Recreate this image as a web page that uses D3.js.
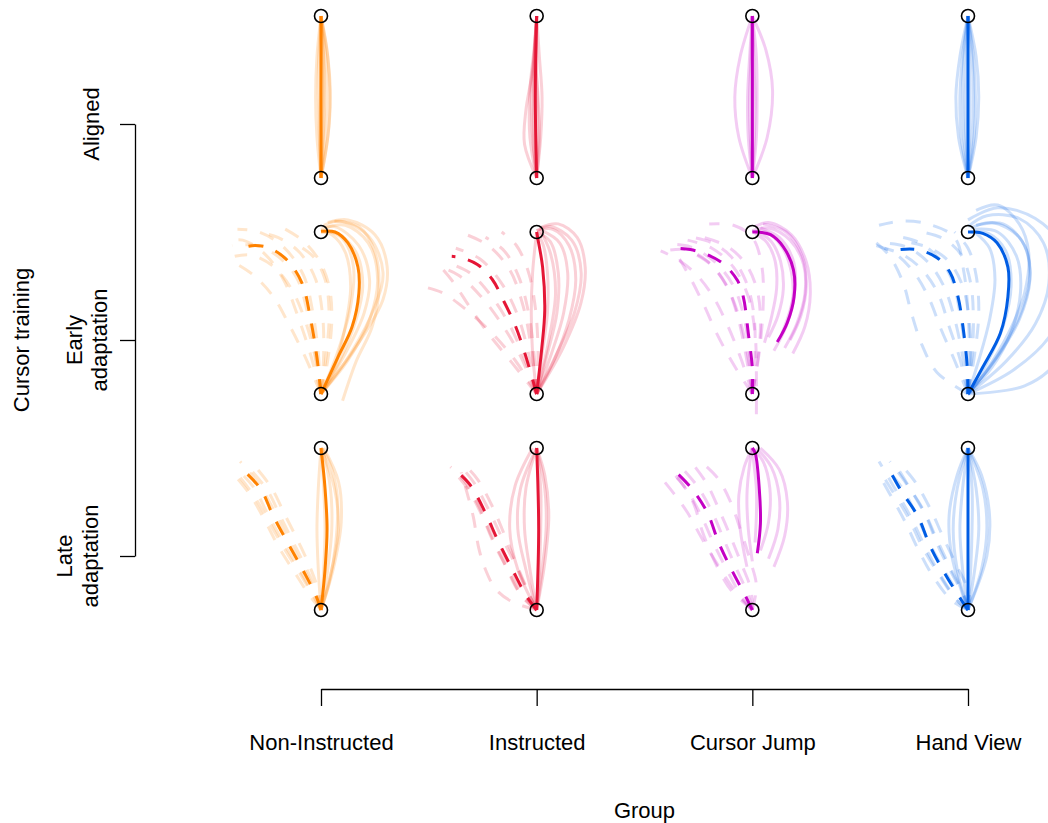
<!DOCTYPE html>
<html><head><meta charset="utf-8">
<script src="https://cdn.jsdelivr.net/npm/d3@7"></script>
<style>body{margin:0;background:#fff}svg{display:block}text{font-family:"Liberation Sans",Arial,Helvetica,sans-serif;}</style>
</head><body><svg id="c" width="1048" height="823"></svg>
<script>
// ---------- categories / labels ----------
const groups = ['Non-Instructed','Instructed','Cursor Jump','Hand View'];
const groupX = [0,16,32,48];                 // home x of each group (cm)
const phaseLabels = [['Aligned'],['Early','adaptation'],['Late','adaptation']];
const phaseY = [0,-16,-32];                  // home y of each phase (cm)
const phaseTicks = [4,-12,-28];
const targetDist = 12;
const colors = ['#ff8200','#e51636','#c400c4','#005de4'];

// ---------- Aligned (solid, hand = cursor) ----------
const NI_al_mean = [[0,0],[0,6],[0,12]];
const NI_al_ind = [
 [[0,0],[0.5,3],[0.7,6],[0.5,9],[0,12]],[[0,0],[0.3,3],[0.45,6],[0.35,9],[0,12]],
 [[0,0],[-0.3,3],[-0.4,6],[-0.3,9],[0,12]],[[0,0],[0.15,4],[0.2,8],[0,12]],
 [[0,0],[-0.15,4],[-0.2,8],[0,12]],[[0,0],[0.6,4],[0.5,9],[0,12]],
 [[0,0],[0.05,4],[0.1,8],[0,12]],[[0,0],[-0.1,4],[0,8],[0,12]],[[0,0],[0.25,5],[0.2,9],[0,12]]];
const IN_al_mean = [[0,0],[-0.1,6],[0,12]];
const IN_al_ind = [
 [[0,0],[-0.9,2.5],[-0.8,5],[-0.3,8],[0,12]],[[0,0],[0.3,3],[0.4,6],[0.2,9],[0,12]],
 [[0,0],[-0.3,3],[-0.4,6],[-0.2,9],[0,12]],[[0,0],[-0.5,3],[-0.5,6.5],[-0.2,9.5],[0,12]],
 [[0,0],[0.2,3],[0.1,6],[-0.1,9],[0,12]],[[0,0],[-0.1,4],[-0.2,8],[0,12]],
 [[0,0],[0.1,4],[0,8],[0,12]],[[0,0],[-0.25,3],[-0.2,7],[0,12]]];
const CJ_al_mean = [[0,0],[0,6],[0,12]];
const CJ_al_ind = [
 [[0,0],[-1.0,3],[-1.3,6],[-0.9,9],[0,12]],[[0,0],[1.1,3],[1.5,6.5],[1.0,9.5],[0,12]],
 [[0,0],[-0.3,3],[-0.35,6],[-0.2,9],[0,12]],[[0,0],[0.3,3],[0.35,6],[0.3,9],[0,12]],
 [[0,0],[-0.15,3],[-0.2,6],[-0.1,9],[0,12]],[[0,0],[0.15,3],[0.2,6],[0.1,9],[0,12]],
 [[0,0],[0,4],[0.05,8],[0,12]]];
const HV_al_mean = [[0,0],[0,6],[0,12]];
const HV_al_ind = [
 [[0,0],[-0.7,3],[-0.9,6],[-0.6,9],[0,12]],[[0,0],[0.6,3],[0.8,6],[0.6,9],[0,12]],
 [[0,0],[-0.3,3],[-0.4,6],[-0.3,9],[0,12]],[[0,0],[0.3,3],[0.4,6],[0.3,9],[0,12]],
 [[0,0],[-0.5,3],[-0.6,6],[-0.4,9],[0,12]],[[0,0],[0.1,3],[0.15,6],[0.1,9],[0,12]],
 [[0,0],[-0.15,3],[-0.2,6],[-0.1,9],[0,12]],[[0,0],[0.45,3],[0.55,6],[0.4,9],[0,12]]];

// ---------- Early adaptation ----------
const NI_ea_cur_mean = [[0,0],[1.26,2.74],[2.3,4.96],[2.81,7.48],[2.74,9.41],[2.0,11.19],[1.04,12.0],[0,12.05]];
const NI_ea_cur_ind = [
 [[0,0],[1.8,3],[3.2,6],[3.6,8.5],[2.8,11],[1,12.4],[0,12.2]],
 [[0,0],[2.2,3],[4,6.5],[4.6,9],[3.6,11.6],[1.5,12.8],[0.2,12.5]],
 [[0,0],[1.4,2.5],[2.6,5.5],[3.1,8],[2.6,10.5],[1.2,11.9],[0,12]],
 [[0,0],[2.6,3.5],[4.6,7],[4.9,9.5],[4,11.8],[2,12.9],[0.5,12.7]],
 [[0,0],[1,2],[1.8,5],[2.2,8],[1.8,10.5],[0.8,11.8],[0,12]],
 [[0,0],[2,2.5],[3.6,5.5],[4.2,8.5],[3.5,11.2],[1.8,12.5],[0.3,12.3]],
 [[1.6,-0.5],[2.6,2.4],[3.8,5],[4.3,7.8],[4,10.5],[2.8,12.4],[1,12.8]],
 [[0,0],[1.2,3],[2.2,6.5],[2.4,9.5],[1.6,11.5],[0.4,12.1]]];
const NI_ea_hand_mean = [[0,0],[-0.3,2.7],[-0.8,5.7],[-1.4,8.2],[-2.5,9.9],[-3.8,10.8],[-4.9,11.0],[-6.0,10.8]];
const NI_ea_hand_ind = [
 [[0,0],[-0.8,3],[-1.8,6],[-2.8,8.5],[-4.2,10.4],[-5.8,11.4],[-7,11.3]],
 [[0,0],[0.2,3],[0.1,6],[-0.4,8.5],[-1.6,10.5],[-3.2,11.6],[-4.8,12.0]],
 [[0,0],[-0.5,3],[-1.2,5.5],[-2.2,7.8],[-3.6,9.5],[-5.2,10.3],[-6.4,10.2]],
 [[0,0],[0.4,3],[0.6,6],[0.3,8.5],[-0.6,10.2],[-2,11.2]],
 [[0,0],[-1.2,2.8],[-2.4,5.2],[-3.6,7.3],[-5,8.8],[-6.2,9.6]],
 [[0,0],[-0.2,3],[-0.6,6],[-1.3,8.8],[-2.8,10.9],[-4.6,12],[-6.2,12.2]],
 [[0,0],[0.5,2.5],[0.8,5.5],[0.6,8],[-0.2,10],[-1.4,11.4],[-3,12.4]],
 [[0,0],[-0.4,2.8],[-1.0,6.0],[-1.8,8.6],[-3.2,10.2],[-4.8,11.0],[-6.6,11.0]]];

const IN_ea_cur_mean = [[0,0],[0.37,3.3],[0.6,6.2],[0.44,9.4],[0.07,11.6],[0,12]];
const IN_ea_cur_ind = [
 [[0,0],[0.8,3],[1.5,6],[1.6,9],[1.0,11.3],[0,12]],
 [[0,0],[1.5,3],[2.8,6],[3.3,9],[2.6,11.4],[1,12.4],[0,12.1]],
 [[0,0],[1.1,3],[2,6],[2.3,9],[1.7,11.2],[0.4,12.1]],
 [[0,0],[2,3.5],[3.3,6.8],[3.6,9.4],[3,11.6],[1.6,12.6],[0.2,12.3]],
 [[0,0],[0.4,3],[0.8,6],[0.8,9],[0.5,11],[0,12]],
 [[0,0],[1.3,2.5],[2.4,5.5],[2.9,8.5],[2.4,11],[1.2,12.2],[0,12.1]],
 [[0,0],[-0.3,3],[-0.4,6],[-0.3,9],[0,12]],
 [[0,0],[0.9,4],[1.4,7.5],[1.0,10.5],[0.2,12.2]]];
const IN_ea_hand_mean = [[0,0],[-0.9,3.1],[-1.6,5.1],[-2.5,7.0],[-3.3,8.5],[-4.4,9.6],[-5.6,10.1],[-6.3,10.2]];
const IN_ea_hand_ind = [
 [[0,0],[-1.6,2.5],[-3.4,4.6],[-5.3,6.3],[-7,7.5],[-8.2,7.9]],
 [[0,0],[-1.2,2.8],[-2.6,5.2],[-4.2,7.3],[-5.8,8.8],[-7.4,9.5]],
 [[0,0],[-0.6,3],[-1.4,5.8],[-2.6,8.2],[-4.2,10],[-6.0,10.8]],
 [[0,0],[-0.2,3],[-0.6,6],[-1.3,8.6],[-2.4,10.6],[-3.8,11.6]],
 [[0,0],[0.1,3.2],[-0.1,6.4],[-0.6,9],[-1.5,11],[-2.6,12.0]],
 [[0,0],[-0.9,2.6],[-2.0,5.1],[-3.4,7.3],[-5.0,9],[-6.8,9.8]],
 [[0,0],[-0.4,3.4],[-1.0,6.5],[-2.0,9.2],[-3.6,11],[-5.2,11.8]],
 [[0,0],[-1.9,2.4],[-3.6,4.5],[-5.0,6.5],[-6.2,8.3],[-7.2,9.5]]];

const CJ_ea_cur_mean = [[1.85,3.85],[2.6,5.3],[3.1,7.2],[3.05,9.2],[2.3,10.9],[1.35,11.8],[0.4,12.0],[0,12]];
const CJ_ea_cur_ind = [
 [[2.4,3.4],[3.3,5.2],[3.9,7.4],[3.8,9.6],[2.8,11.4],[1.2,12.3],[0,12.1]],
 [[1.2,4.2],[1.9,5.8],[2.3,7.8],[2.1,9.8],[1.4,11.3],[0.4,12]],
 [[3,3],[3.9,5],[4.3,7.4],[4.0,9.8],[2.9,11.8],[1.2,12.7],[0.2,12.4]],
 [[1.6,3.2],[2.5,5],[3,7],[2.9,9],[2.2,10.9],[1.0,12.0],[0,12]],
 [[2.2,4.5],[2.8,6.2],[3.2,8.2],[3,10],[2,11.6],[0.6,12.3]],
 [[0.9,3.8],[1.4,5.6],[1.8,7.8],[1.7,9.8],[1.1,11.2],[0.2,11.9]],
 [[2.8,4.0],[3.6,5.8],[4.0,8],[3.7,10.2],[2.5,12],[0.8,12.6]]];
const CJ_ea_hand_mean = [[0,0],[0,1.9],[-0.3,4.5],[-0.67,7.2],[-1.1,8.4],[-2.1,9.6],[-3.3,10.3],[-4.6,10.7],[-5.6,10.8]];
const CJ_ea_hand_ind = [
 [[0,0],[-0.8,2.5],[-1.8,5],[-2.9,7.2],[-4.2,8.9],[-5.6,10],[-6.8,10.6]],
 [[0,0],[0.4,2.5],[0.6,5],[0.4,7.5],[-0.4,9.5],[-1.8,10.9],[-3.6,11.6]],
 [[0,0],[-0.2,2.8],[-0.6,5.6],[-1.4,8.0],[-2.8,9.8],[-4.6,10.9],[-6.2,11.1]],
 [[0,0],[-1.4,2.2],[-2.6,4.4],[-3.6,6.6],[-4.6,8.6],[-5.4,10.0]],
 [[0.3,-1.5],[0.3,1.5],[0.2,4.5],[-0.3,7.2],[-1.4,9.4],[-3,10.8],[-4.8,11.4]],
 [[0,0],[-0.5,3],[-1.1,5.8],[-2,8.2],[-3.4,9.9],[-5,10.7],[-6.5,10.6]],
 [[0,0],[0.2,3],[0.1,6],[-0.5,8.4],[-1.6,10.2],[-3.0,11.2],[-4.4,11.6]],
 [[0,0],[-0.3,2.6],[-0.9,5.4],[-1.8,7.8],[-3.1,9.6],[-4.7,10.6]],
 [[0,0],[0.5,3],[0.8,6.5],[0.7,9.5],[0,11.6],[-1.4,12.5],[-3.2,12.6]]];

const HV_ea_cur_mean = [[0,0],[1.1,2.0],[2.4,4.5],[2.96,7.2],[2.96,9.4],[2.15,11.2],[1.1,11.9],[0.35,12],[0,12]];
const HV_ea_cur_ind = [
 [[0,0],[2,2.5],[3.8,5.5],[4.6,8.5],[4.2,11],[2.6,12.6],[0.6,12.5]],
 [[0,0],[2.8,2.4],[5,5.2],[6,8.2],[5.6,11.2],[3.8,13.0],[1.4,13.2],[0,12.4]],
 [[0,0],[1.4,2.3],[2.6,5],[3.2,8],[2.8,10.6],[1.5,11.9],[0.2,12]],
 [[0,0],[3.4,1.8],[6,4.2],[7.4,7.5],[7,10.8],[5,13],[2.2,13.8],[0,12.9]],
 [[0,0],[0.8,2.5],[1.6,5.5],[2,8.5],[1.6,10.8],[0.6,11.9]],
 [[0,0],[2.3,3],[4,6.2],[4.6,9.2],[3.8,11.6],[1.8,12.7],[0.2,12.3]],
 [[0,0],[1.8,2],[3.2,4.6],[3.9,7.6],[3.6,10.2],[2.2,12],[0.5,12.2]],
 [[0,0],[4.2,0.6],[6.6,2.4],[7.8,5.5],[8,9]],
 [[0,0],[1.2,1.5],[3,4.5],[4.2,7.5],[4.5,10.5],[3.8,12.6],[2.2,14.0],[0.6,13.6]]];
const HV_ea_hand_mean = [[0,0],[-0.07,2.2],[-0.37,4.96],[-0.74,7.2],[-1.33,9.0],[-2.3,10.1],[-3.8,10.7],[-5.0,10.7]];
const HV_ea_hand_ind = [
 [[0,0],[-2.3,1.6],[-3.4,3.6],[-4.2,6],[-4.8,8.2],[-5.8,10.2],[-6.8,11.2]],
 [[0,0],[0.1,3],[0,6],[-0.3,9],[-1,11.6],[-3,12.6],[-5,12.8],[-6.6,12.5]],
 [[0,0],[-0.4,2.8],[-1.0,5.6],[-1.8,8],[-3,9.8],[-4.6,10.9],[-6.4,11.2]],
 [[0,0],[0.3,2.8],[0.4,5.6],[0.2,8.2],[-0.5,10.3],[-1.8,11.5],[-3.4,12]],
 [[0,0],[-1,2.5],[-2,4.8],[-2.9,7.1],[-4,9],[-5.4,10.4],[-6.8,11]],
 [[0,0],[0.5,3],[0.8,6],[0.6,8.8],[0,10.8],[-1,12.0]],
 [[0,0],[-0.2,3],[-0.6,6],[-1.2,8.5],[-2.3,10.2],[-3.8,11.3],[-5.4,11.7]],
 [[0,0],[-0.6,2.6],[-1.4,5],[-2.2,7.4],[-3.4,9.2],[-4.8,10.3],[-6.2,10.8]],
 [[0,0],[0.2,2.6],[0.1,5.4],[-0.4,8.0],[-1.4,9.8],[-2.8,10.8],[-4.2,11.2]]];

// ---------- Late adaptation ----------
const NI_la_cur_mean = [[0,0],[0.3,3],[0.45,6],[0.3,9],[0,12]];
const NI_la_cur_ind = [
 [[0,0],[0.8,3],[1.3,6],[1.0,9],[0,12]],[[0,0],[0.9,3],[1.5,6.5],[1.3,9.5],[0.2,12]],
 [[0,0],[0.2,3],[0.3,6],[0.2,9],[0,12]],[[0,0],[-0.2,3],[-0.3,6],[-0.2,9],[0,12]],
 [[0,0],[0.5,3],[0.8,6],[0.7,9],[0.1,12]],[[0,0],[0.6,2],[1.1,5],[1.2,8.5],[0.6,11],[0,12]]];
const NI_la_hand_mean = [[0,0],[-0.37,1.04],[-1.26,2.8],[-2.37,4.8],[-3.56,7.0],[-4.5,9.0],[-6.15,10.7]];
const NI_la_hand_ind = [
 [[0,0],[-0.6,1.2],[-1.6,3],[-2.8,5],[-4,7.2],[-5,9.1],[-6.4,10.6]],
 [[0,0],[-0.2,1],[-0.9,2.7],[-1.9,4.7],[-3.0,6.9],[-4.0,8.9],[-5.6,10.8]],
 [[0,0],[-0.5,0.9],[-1.5,2.6],[-2.7,4.5],[-3.9,6.6],[-5.0,8.5],[-6.4,10.3]],
 [[0,0],[-0.1,1.1],[-0.7,2.9],[-1.6,4.9],[-2.7,7.1],[-3.7,9.1],[-5.2,11]],
 [[0,0],[-0.4,1.2],[-1.3,3.1],[-2.4,5.2],[-3.5,7.4],[-4.6,9.3],[-6.0,11]],
 [[0,0],[-0.8,1],[-1.9,2.7],[-3.1,4.6],[-4.2,6.7],[-5.3,8.6],[-6.6,10.2]]];

const IN_la_cur_mean = [[0,0],[0.15,6],[0,12]];
const IN_la_cur_ind = [
 [[0,0],[-0.8,3],[-1.4,6],[-1.2,9],[0,12]],[[0,0],[-0.5,3],[-0.9,6],[-0.8,9],[0,12]],
 [[0,0],[0.4,3],[0.7,6],[0.6,9],[0,12]],[[0,0],[0.2,3],[0.3,6],[0.3,9],[0,12]],
 [[0,0],[-1.4,3],[-2.0,6],[-1.6,9.2],[-0.3,12]],[[0,0],[0.6,3.5],[0.9,7],[0.6,10],[0,12]]];
const IN_la_hand_mean = [[0,0],[-0.74,1.0],[-1.85,3.1],[-2.9,5.2],[-3.85,7.3],[-4.96,9.3],[-6.2,10.5]];
const IN_la_hand_ind = [
 [[0,0],[-0.5,1],[-1.5,3.2],[-2.6,5.4],[-3.6,7.5],[-4.7,9.5],[-5.6,10.6]],
 [[0,0],[-1,0.9],[-2.1,2.9],[-3.2,5.0],[-4.1,7.1],[-5.2,9.1],[-6.2,10.3]],
 [[0,0],[-0.6,1.3],[-1.5,3.4],[-2.4,5.6],[-3.3,7.7],[-4.4,9.7],[-5.4,10.8]],
 [[0,0],[-1.8,0.6],[-3,1.5],[-3.8,3],[-4.3,4.6],[-4.7,6.9],[-5.2,8.8],[-5.6,10.2]],
 [[0,0],[-0.9,1.1],[-2,3.2],[-3,5.3],[-4.0,7.4],[-5.0,9.3],[-6.0,10.6]],
 [[0,0],[-1.3,1.3],[-2.4,3.5],[-3.4,5.6],[-4.3,7.7],[-5.4,9.6],[-6.4,10.6]]];

const CJ_la_cur_mean = [[0.37,4.2],[0.6,6.4],[0.52,8.9],[0.22,11.6],[0,12]];
const CJ_la_cur_ind = [
 [[-0.4,3.2],[-0.9,6],[-1,8.5],[-0.6,10.6],[0,12]],[[1.2,3.8],[1.9,6],[2,8.4],[1.4,10.6],[0.3,12]],
 [[0.6,4.4],[1.2,6.5],[1.3,9],[0.8,11],[0,12]],[[0,3.6],[-0.3,6],[-0.4,8.5],[-0.2,10.8],[0,12]],
 [[1.6,3.2],[2.4,5.5],[2.6,8],[2,10.4],[0.6,12]],[[0.2,5],[0.3,7],[0.3,9],[0.1,11],[0,12]]];
const CJ_la_hand_mean = [[0,0],[-0.44,0.9],[-1.55,3.0],[-2.5,5.0],[-3.33,7.2],[-4.5,9.0],[-5.85,10.4]];
const CJ_la_hand_ind = [
 [[0,0],[-1.2,1.3],[-2.6,3.4],[-3.8,5.4],[-4.8,7.2],[-5.8,8.6],[-6.6,9.6]],
 [[0,0],[0.3,1.8],[-0.2,3.8],[-0.9,6],[-1.7,8.2],[-2.6,9.8],[-3.6,10.8]],
 [[0,0],[-0.8,1.0],[-1.9,3.0],[-2.9,5.0],[-3.8,7.0],[-4.8,8.8],[-5.9,10.2]],
 [[0,0],[-0.3,1.1],[-1.2,3.1],[-2.1,5.2],[-3,7.3],[-4.1,9.2],[-5.3,10.6]],
 [[0,0],[-1.6,1.5],[-2.8,3.6],[-3.7,5.8],[-4.4,8],[-5.4,9.6],[-6.3,10.4]],
 [[0,0],[-0.1,1.5],[-0.8,3.4],[-1.6,5.4],[-2.5,7.5],[-3.4,9.4],[-4.4,10.8]]];

const HV_la_cur_mean = [[0,0],[0,6],[0,12]];
const HV_la_cur_ind = [
 [[0,0],[-0.8,3],[-1.1,6],[-0.8,9],[0,12]],[[0,0],[1.0,3],[1.4,6],[1.1,9],[0,12]],
 [[0,0],[0.5,3],[0.8,6],[0.6,9],[0,12]],[[0,0],[-0.4,3],[-0.6,6],[-0.4,9],[0,12]],
 [[0,0],[0.2,3],[0.3,6],[0.3,9],[0,12]],[[0,0],[-1.2,4],[-1.4,7],[-0.8,10],[0,12]],
 [[0,0],[1.4,4],[1.6,7],[1.0,10],[0,12]]];
const HV_la_hand_mean = [[0,0],[-0.5,0.74],[-1.7,2.67],[-2.8,4.7],[-3.7,6.9],[-5.0,8.9],[-6.0,10.7]];
const HV_la_hand_ind = [
 [[0,0],[-0.9,0.8],[-2.2,2.7],[-3.4,4.7],[-4.4,6.8],[-5.6,8.8],[-6.6,10.4]],
 [[0,0],[-0.2,0.8],[-1.2,2.7],[-2.2,4.7],[-3.1,6.9],[-4.3,9.0],[-5.4,10.8]],
 [[0,0],[-0.6,1.0],[-1.8,3.0],[-2.9,5.0],[-3.9,7.2],[-5.0,9.2],[-6.2,10.6]],
 [[0,0],[-1.2,0.7],[-2.6,2.5],[-3.7,4.5],[-4.7,6.6],[-5.8,8.6],[-6.6,10.0]],
 [[0,0],[-0.3,1.1],[-1.3,3.1],[-2.3,5.2],[-3.3,7.4],[-4.6,9.4],[-5.8,11]],
 [[0,0],[-0.7,0.6],[-2.0,2.5],[-3.1,4.5],[-4.1,6.6],[-5.2,8.6],[-6.6,11.0]],
 [[0,0],[0.1,1.2],[-0.8,3.2],[-1.8,5.3],[-2.8,7.5],[-4,9.6],[-5.2,11.0]]];

// ---------- assemble panels ----------
const layers = [
 // [group, phase, style, individuals, mean]
 [0,0,'solid',NI_al_ind,NI_al_mean],[1,0,'solid',IN_al_ind,IN_al_mean],
 [2,0,'solid',CJ_al_ind,CJ_al_mean],[3,0,'solid',HV_al_ind,HV_al_mean],
 [0,1,'dash',NI_ea_hand_ind,NI_ea_hand_mean],[0,1,'solid',NI_ea_cur_ind,NI_ea_cur_mean],
 [1,1,'dash',IN_ea_hand_ind,IN_ea_hand_mean],[1,1,'solid',IN_ea_cur_ind,IN_ea_cur_mean],
 [2,1,'dash',CJ_ea_hand_ind,CJ_ea_hand_mean],[2,1,'solid',CJ_ea_cur_ind,CJ_ea_cur_mean],
 [3,1,'dash',HV_ea_hand_ind,HV_ea_hand_mean],[3,1,'solid',HV_ea_cur_ind,HV_ea_cur_mean],
 [0,2,'dash',NI_la_hand_ind,NI_la_hand_mean],[0,2,'solid',NI_la_cur_ind,NI_la_cur_mean],
 [1,2,'dash',IN_la_hand_ind,IN_la_hand_mean],[1,2,'solid',IN_la_cur_ind,IN_la_cur_mean],
 [2,2,'dash',CJ_la_hand_ind,CJ_la_hand_mean],[2,2,'solid',CJ_la_cur_ind,CJ_la_cur_mean],
 [3,2,'dash',HV_la_hand_ind,HV_la_hand_mean],[3,2,'solid',HV_la_cur_ind,HV_la_cur_mean]];

// ---------- scales ----------
const svg = d3.select('#c');
const x = d3.scaleLinear().domain([0,48]).range([321,968]);
const y = d3.scaleLinear().domain([-32,12]).range([610,16]);
const DASH = '15,13';

const lineFor = (g,p) => d3.line()
  .x(d => x(groupX[g] + d[0]))
  .y(d => y(phaseY[p] + d[1]))
  .curve(d3.curveCatmullRom.alpha(0.5));

const gInd = svg.append('g'), gMean = svg.append('g');
layers.forEach(([g,p,style,ind,mean]) => {
  const ln = lineFor(g,p);
  gInd.selectAll(null).data(ind).enter().append('path')
    .attr('d', ln).attr('fill','none').attr('stroke',colors[g])
    .attr('stroke-opacity',0.2).attr('stroke-width',3)
    .attr('stroke-linecap','butt')
    .attr('stroke-dasharray', style==='dash'?DASH:null);
  gMean.append('path').datum(mean).attr('d', ln).attr('fill','none')
    .attr('stroke',colors[g]).attr('stroke-width',3)
    .attr('stroke-dasharray', style==='dash'?DASH:null);
});

// home & target circles
const circ = [];
groupX.forEach((gx,gi)=>phaseY.forEach((py,pi)=>{circ.push([gx,py]);circ.push([gx,py+targetDist]);}));
svg.append('g').selectAll('circle').data(circ).enter().append('circle')
  .attr('cx',d=>x(d[0])).attr('cy',d=>y(d[1])).attr('r',6.5)
  .attr('fill','none').attr('stroke','#000').attr('stroke-width',1.6);

// ---------- axes ----------
const xAxis = d3.axisBottom(x).tickValues(groupX)
  .tickFormat((d,i)=>groups[i]).tickSize(17).tickSizeOuter(0).tickPadding(28);
const xa = svg.append('g').attr('transform','translate(0,689)').call(xAxis);
const yTick = d3.scaleLinear().domain([phaseTicks[2],phaseTicks[0]]).range([y(phaseTicks[2]),y(phaseTicks[0])]);
const yAxis = d3.axisLeft(yTick).tickValues(phaseTicks).tickFormat('').tickSize(15).tickSizeOuter(0);
const ya = svg.append('g').attr('transform','translate(135,0)').call(yAxis);
[xa,ya].forEach(a=>{a.selectAll('path,line').attr('stroke','#000').attr('stroke-width',1.3);
  a.selectAll('text').attr('font-size',22).attr('fill','#000')
   .style('font-family','"Liberation Sans",Arial,sans-serif');});

// phase labels (rotated)
const baseX = [[99],[82,107],[72,98]];
phaseLabels.forEach((lines,pi)=>{
  lines.forEach((t,li)=>{
    svg.append('text').attr('transform',`translate(${baseX[pi][li]},${y(phaseTicks[pi])}) rotate(-90)`)
      .attr('text-anchor','middle').attr('font-size',22).text(t);
  });
});
svg.append('text').attr('transform',`translate(29,${y(phaseTicks[1])}) rotate(-90)`)
  .attr('text-anchor','middle').attr('font-size',22).text('Cursor training');
svg.append('text').attr('x',(x(0)+x(48))/2).attr('y',818)
  .attr('text-anchor','middle').attr('font-size',22).text('Group');
</script></body></html>
